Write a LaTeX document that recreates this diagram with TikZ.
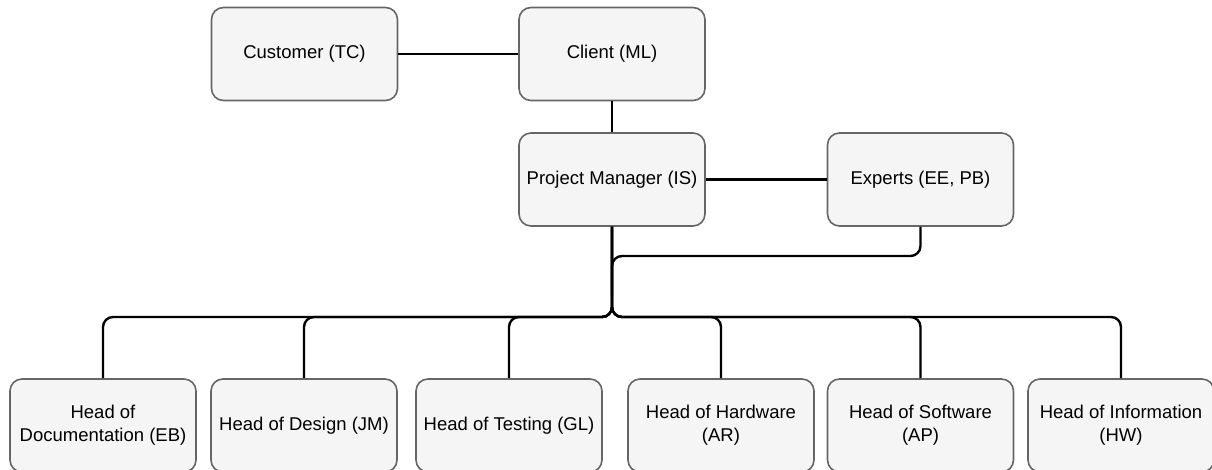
\documentclass[tikz,border=0pt]{standalone}
\usepackage{fontspec}
\setmainfont{Liberation Sans}
\definecolor{boxfill}{HTML}{F5F5F5}
\definecolor{boxgray}{HTML}{666666}
\begin{document}
\begin{tikzpicture}[x=1pt,y=-1pt,
  box/.style={draw=boxgray, fill=boxfill, line width=1.6pt, rounded corners=12pt,
    minimum width=186pt, minimum height=93pt, align=center, inner sep=2pt,
    font=\fontsize{18.5}{23}\selectfont},
  link/.style={draw=black, line width=2.4pt, rounded corners=10pt}]
\useasboundingbox (0,0) rectangle (1212,470);
\node[box] (cust) at (304.5,54) {Customer (TC)};
\node[box] (client) at (612,54) {Client (ML)};
\node[box] (pm) at (612,179.5) {Project Manager (IS)};
\node[box] (exp) at (920.5,179.5) {Experts (EE, PB)};
\node[box] (doc) at (103,425.5) {Head of\\Documentation (EB)};
\node[box] (des) at (304,425.5) {Head of Design (JM)};
\node[box] (test) at (509,425.5) {Head of Testing (GL)};
\node[box] (hw) at (721,425.5) {Head of Hardware\\(AR)};
\node[box] (sw) at (920.5,425.5) {Head of Software\\(AP)};
\node[box] (info) at (1121,425.5) {Head of Information\\(HW)};
\coordinate (bus) at (612,317);
\coordinate (ej) at (612,256);
\coordinate (ejd) at (612,295);
\draw[link] (cust) -- (client);
\draw[link] (client) -- (pm);
\draw[link] (pm) -- (exp);
\draw[link] (exp.south) |- (ej) -- (ejd);
\foreach \c in {doc,des,test,hw,sw,info}
  \draw[link] (pm.south) -- (bus) -| (\c.north);
\end{tikzpicture}
\end{document}
